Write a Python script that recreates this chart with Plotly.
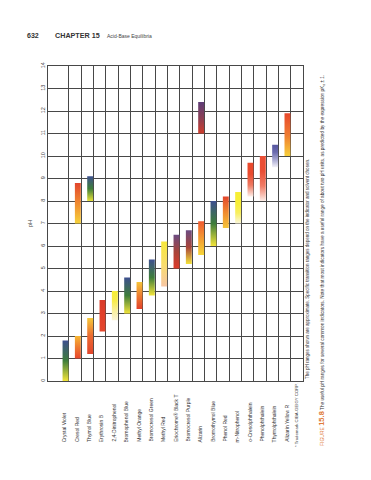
import plotly.graph_objects as go

# ---------------- data ----------------
indicators = [
    "Crystal Violet", "Cresol Red", "Thymol Blue", "Erythrosin B",
    "2,4-Dinitrophenol", "Bromophenol Blue", "Methyl Orange",
    "Bromocresol Green", "Methyl Red", "Eriochrome\u00ae Black T",
    "Bromocresol Purple", "Alizarin", "Bromothymol Blue", "Phenol Red",
    "m-Nitrophenol", "o-Cresolphthalein", "Phenolphthalein",
    "Thymolphthalein", "Alizarin Yellow R",
]
# each colour-change range (bar) -> index of its indicator
bar_indicator = [0, 1, 1, 2, 2, 3, 4, 5, 6, 7, 8, 9, 10, 11, 11, 12, 13, 14, 15, 16, 17, 18]
bar_low  = [0.0, 1.0, 7.0, 1.2, 8.0, 2.2, 2.7, 3.0, 3.2, 3.8, 4.2, 5.0, 5.2, 5.6, 11.0, 6.0, 6.8, 7.0, 8.2, 8.0, 9.5, 10.0]
bar_high = [1.8, 2.0, 8.8, 2.8, 9.1, 3.6, 4.0, 4.6, 4.4, 5.4, 6.2, 6.5, 6.7, 7.1, 12.4, 8.0, 8.2, 8.4, 9.7, 10.0, 10.5, 11.9]
ph_ticks = list(range(0, 15))

# ---------------- styles ----------------
BLUE, GREEN, YELLOW = "#3d4f8f", "#3e7d3a", "#f2e43a"
RED, PURPLE = "#e2452c", "#6b4b82"
# gradient colours of each bar, listed from top (high pH) to bottom (low pH)
bar_colors = [
    [BLUE, GREEN, YELLOW],
    ["#f7b733", "#ee7a30", "#e9462c"],
    [RED, "#f08a30", "#f6d23a"],
    ["#f6c93a", "#ec6a30", "#e2452c"],
    [BLUE, GREEN, "#e8e23a"],
    ["#d93b2a", "#e2402a", "#e4462c"],
    ["#f7ee36", "#f8ec4a", "#f9ef9a", "#fbf5d6"],
    [BLUE, GREEN, YELLOW],
    ["#f6c43a", "#ee7d30", "#e2412a"],
    [BLUE, GREEN, YELLOW],
    ["#f7e83a", "#f8dd6a", "#f7c6a4"],
    [PURPLE, "#a8443a", "#de3c2a"],
    [PURPLE, "#a8443a", "#f3e33a"],
    ["#f05a30", "#f39a33", "#f7d63a"],
    ["#5e3d78", "#8a3f55", "#cf3d2c"],
    [BLUE, GREEN, YELLOW],
    [RED, "#f08a30", "#f6c43a"],
    ["#f7ee36", "#f7ee36", "#f8ef60", "#fbf7dc"],
    ["#ea4a2e", "#ea4a2e", "#ef7a62", "#fdeee8"],
    ["#ea4e34", "#ea4e34", "#f07c66", "#fdeee8"],
    ["#5757a0", "#6a6aae", "#a9a9d2", "#f2f1f9"],
    ["#e8482c", "#ef7a30", "#f7cf3a"],
]

W, H = 371, 480
ML, MR, MT, MB = 40, 76, 58, 107
PW, PH_ = W - ML - MR, H - MT - MB


def paper_x(px):
    return (px - ML) / PW


def paper_y(py):
    return (H - MB - py) / PH_


FONT = "Liberation Sans"
GRID = "#484848"

fig = go.Figure()

for k, idx in enumerate(bar_indicator):
    lo, hi = bar_low[k], bar_high[k]
    left, right = idx - 0.5, idx - 0.02
    cols = list(reversed(bar_colors[k]))  # bottom -> top
    n = len(cols)
    cs = [[i / (n - 1), c] for i, c in enumerate(cols)]
    fig.add_trace(go.Scatter(
        x=[left, right, right, left, left],
        y=[lo, lo, hi, hi, lo],
        mode="lines", fill="toself",
        line=dict(width=0, color="rgba(0,0,0,0)"),
        fillgradient=dict(type="vertical", colorscale=cs),
        hoverinfo="skip", showlegend=False,
    ))

annotations = []
# indicator names, rotated, starting from a common baseline
for i, name in enumerate(indicators):
    annotations.append(dict(
        x=i - 0.36, xref="x", y=paper_y(436), yref="paper",
        text=name, textangle=-90, showarrow=False,
        xanchor="center", yanchor="bottom",
        font=dict(family=FONT, size=5, color="#333"),
    ))

annotations.append(dict(
    x=paper_x(288), xref="paper", y=paper_y(441), yref="paper",
    text="* Trademark CIBA-GEIGY CORP.", textangle=-90, showarrow=False,
    xanchor="center", yanchor="bottom",
    font=dict(family=FONT, size=4.3, color="#444"),
))

annotations.append(dict(
    x=paper_x(299), xref="paper", y=paper_y(373), yref="paper",
    text=("The pH ranges shown are approximate. Specific transition ranges depend "
          "on the indicator and solvent chosen."),
    textangle=-90, showarrow=False, xanchor="center", yanchor="bottom",
    font=dict(family=FONT, size=4.5, color="#333"),
))

annotations.append(dict(
    x=paper_x(313.5), xref="paper", y=paper_y(440), yref="paper",
    text=("<span style='color:#e07b39;font-size:5px'>FIGURE</span> "
          "<b><span style='color:#e07b39;font-size:7.5px'>15.8</span></b> "
          "The useful pH ranges for several common indicators. Note that most "
          "indicators have a useful range of about two pH units, as predicted by "
          "the expression pK<sub>a</sub> \u00b1 1."),
    textangle=-90, showarrow=False, xanchor="center", yanchor="bottom",
    font=dict(family=FONT, size=4.7, color="#333"),
))

# page header
annotations += [
    dict(x=paper_x(17), xref="paper", y=paper_y(28), yref="paper", text="<b>632</b>",
         showarrow=False, xanchor="left", yanchor="middle",
         font=dict(family=FONT, size=7, color="#333")),
    dict(x=paper_x(45), xref="paper", y=paper_y(28), yref="paper", text="<b>CHAPTER 15</b>",
         showarrow=False, xanchor="left", yanchor="middle",
         font=dict(family=FONT, size=7.2, color="#333")),
    dict(x=paper_x(97), xref="paper", y=paper_y(28), yref="paper", text="Acid-Base Equilibria",
         showarrow=False, xanchor="left", yanchor="middle",
         font=dict(family=FONT, size=5, color="#444")),
]

fig.update_layout(
    width=W, height=H,
    margin=dict(l=ML, r=MR, t=MT, b=MB, pad=0),
    paper_bgcolor="white", plot_bgcolor="white",
    showlegend=False,
    annotations=annotations,
    xaxis=dict(
        range=[-1.68, 19], tickmode="array", tickvals=list(range(0, 20)),
        showticklabels=False, ticks="", showgrid=True, gridcolor=GRID, gridwidth=1,
        zeroline=False, showline=True, linecolor=GRID, linewidth=1, mirror=True,
        fixedrange=True,
    ),
    yaxis=dict(
        range=[0, 14], tickmode="array", tickvals=ph_ticks,
        ticktext=[str(v) for v in ph_ticks], tickangle=-90,
        tickfont=dict(family=FONT, size=5.5, color="#444"),
        ticks="", showgrid=True, gridcolor=GRID, gridwidth=1,
        zeroline=False, showline=True, linecolor=GRID, linewidth=1, mirror=True,
        title=dict(text="pH", font=dict(family=FONT, size=6, color="#444"), standoff=6),
        fixedrange=True,
    ),
)

fig.write_html("out.html")
